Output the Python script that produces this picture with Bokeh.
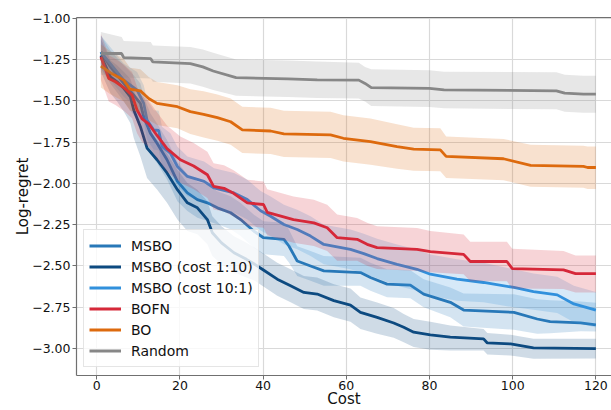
from bokeh.plotting import figure
from bokeh.models import (Range1d, FixedTicker, LinearAxis, Legend, LegendItem,
                          CustomJSTickFormatter)
from bokeh.embed import file_html
from bokeh.resources import INLINE

# ---------------- data ----------------
x_ticks = [0, 20, 40, 60, 80, 100, 120]
y_ticks = [-3.0, -2.75, -2.5, -2.25, -2.0, -1.75, -1.5, -1.25, -1.0]

# MSBO
msbo_x = [1, 3.3, 6.5, 8.9, 10.5, 11.3, 12.9, 14.5, 16.9, 19.4, 21.8, 24.2, 26.6, 29,
          32.2, 34.6, 37.8, 40.1, 45, 46.2, 48.2, 51.4, 54.6, 63.4, 65.8, 69.8, 75.4,
          78.6, 85, 88.2, 100.3, 105.9, 109, 116.3, 120]
msbo_y = [-1.205, -1.295, -1.395, -1.466, -1.516, -1.596, -1.696, -1.757, -1.857, -1.988,
          -2.058, -2.098, -2.118, -2.148, -2.178, -2.219, -2.29, -2.329, -2.339, -2.379,
          -2.47, -2.50, -2.53, -2.54, -2.57, -2.61, -2.616, -2.67, -2.72, -2.767, -2.781,
          -2.821, -2.837, -2.845, -2.857]
msbo_up = [0.10, 0.10, 0.11, 0.12, 0.12, 0.12, 0.12, 0.12, 0.12, 0.12, 0.11, 0.11, 0.11,
           0.10, 0.10, 0.10, 0.10, 0.10, 0.10, 0.10, 0.09, 0.09, 0.09, 0.09, 0.09, 0.09,
           0.09, 0.09, 0.09, 0.10, 0.11, 0.12, 0.13, 0.13, 0.135]
msbo_dn = [0.10, 0.10, 0.11, 0.12, 0.12, 0.12, 0.12, 0.12, 0.12, 0.12, 0.11, 0.11, 0.11,
           0.10, 0.10, 0.10, 0.10, 0.10, 0.10, 0.10, 0.09, 0.09, 0.09, 0.08, 0.08, 0.08,
           0.08, 0.08, 0.09, 0.10, 0.105, 0.09, 0.07, 0.05, 0.04]

# MSBO (cost 1:10)
c110_x = [1, 3.3, 4.9, 6.5, 8.1, 8.9, 10.5, 12.1, 14.5, 16.9, 19.4, 21.8, 24.2, 26.6,
          27.8, 30, 33, 36, 38, 39.8, 43.4, 46.6, 49.8, 53, 57, 61, 63.4, 67.4, 71.4,
          73.8, 76.2, 80.2, 85, 93, 93.9, 99.5, 105, 120]
c110_y = [-1.225, -1.355, -1.385, -1.425, -1.476, -1.556, -1.657, -1.787, -1.857, -1.937,
          -2.038, -2.118, -2.148, -2.219, -2.299, -2.36, -2.42, -2.46, -2.49, -2.52,
          -2.58, -2.62, -2.66, -2.67, -2.71, -2.737, -2.781, -2.811, -2.845, -2.871,
          -2.901, -2.917, -2.931, -2.941, -2.966, -2.972, -2.996, -3.0]
c110_up = [0.10, 0.10, 0.10, 0.10, 0.11, 0.12, 0.12, 0.12, 0.12, 0.12, 0.12, 0.12, 0.11,
           0.11, 0.10, 0.10, 0.10, 0.10, 0.10, 0.10, 0.10, 0.10, 0.10, 0.10, 0.10, 0.10,
           0.09, 0.09, 0.09, 0.08, 0.08, 0.08, 0.07, 0.06, 0.06, 0.055, 0.055, 0.06]
c110_dn = [0.10, 0.10, 0.12, 0.14, 0.16, 0.17, 0.18, 0.18, 0.18, 0.18, 0.18, 0.17, 0.16,
           0.15, 0.14, 0.13, 0.12, 0.11, 0.10, 0.10, 0.10, 0.10, 0.10, 0.10, 0.10, 0.10,
           0.10, 0.10, 0.09, 0.09, 0.09, 0.09, 0.08, 0.07, 0.07, 0.07, 0.065, 0.06]

# MSBO (cost 10:1)
c101_x = [1, 6.5, 9.7, 11.3, 12.1, 13.7, 14.9, 15.7, 17.7, 19.4, 21.8, 25.8, 28.2, 33,
          36.2, 39.4, 41.8, 45, 48.2, 51.4, 54.6, 61, 64.2, 67.4, 72.2, 77, 80.2, 86.6,
          93, 100.3, 105, 110.7, 114.7, 120]
c101_y = [-1.205, -1.375, -1.436, -1.516, -1.616, -1.677, -1.68, -1.777, -1.817, -1.898,
          -1.958, -1.988, -2.028, -2.058, -2.098, -2.166, -2.199, -2.249, -2.279, -2.319,
          -2.37, -2.40, -2.425, -2.455, -2.49, -2.52, -2.55, -2.58, -2.60, -2.63, -2.655,
          -2.675, -2.73, -2.767]
c101_up = [0.10, 0.10, 0.11, 0.11, 0.12, 0.12, 0.12, 0.12, 0.12, 0.12, 0.12, 0.12, 0.12,
           0.12, 0.12, 0.12, 0.12, 0.12, 0.12, 0.12, 0.12, 0.12, 0.12, 0.12, 0.12, 0.12,
           0.12, 0.12, 0.12, 0.11, 0.11, 0.11, 0.11, 0.11]
c101_dn = [0.10, 0.10, 0.11, 0.11, 0.12, 0.12, 0.12, 0.12, 0.12, 0.12, 0.12, 0.12, 0.12,
           0.12, 0.12, 0.12, 0.12, 0.12, 0.12, 0.12, 0.12, 0.12, 0.12, 0.12, 0.13, 0.13,
           0.13, 0.13, 0.12, 0.12, 0.11, 0.11, 0.11, 0.105]

# BOFN
bofn_x = [1, 2.9, 4.5, 6.5, 8.5, 9.7, 10.9, 12.5, 14.5, 16.9, 20.1, 23.3, 26.6, 28.1,
          30.6, 32.9, 36.2, 40.1, 41, 47.3, 52.2, 55.4, 57.8, 62.6, 65, 67.4, 77, 80.2,
          88.2, 89.8, 98.6, 99.9, 112.2, 115.1, 120]
bofn_y = [-1.235, -1.365, -1.385, -1.42, -1.466, -1.556, -1.61, -1.64, -1.71, -1.79,
          -1.857, -1.895, -1.948, -2.018, -2.03, -2.06, -2.118, -2.128, -2.175, -2.219,
          -2.239, -2.269, -2.329, -2.339, -2.369, -2.389, -2.40, -2.413, -2.43, -2.473,
          -2.473, -2.516, -2.524, -2.546, -2.546]
bofn_up = [0.14, 0.14, 0.14, 0.14, 0.14, 0.14, 0.14, 0.14, 0.14, 0.14, 0.14, 0.14, 0.14,
           0.14, 0.14, 0.14, 0.14, 0.14, 0.14, 0.14, 0.14, 0.14, 0.14, 0.13, 0.13, 0.13,
           0.13, 0.125, 0.12, 0.12, 0.12, 0.12, 0.115, 0.11, 0.11]
bofn_dn = [0.14, 0.14, 0.14, 0.14, 0.14, 0.14, 0.14, 0.14, 0.14, 0.14, 0.14, 0.14, 0.14,
           0.14, 0.14, 0.14, 0.14, 0.14, 0.14, 0.14, 0.14, 0.14, 0.14, 0.13, 0.13, 0.13,
           0.13, 0.125, 0.12, 0.12, 0.12, 0.12, 0.115, 0.115, 0.115]

# BO
bo_x = [1, 3.3, 6.5, 8, 10.5, 12.5, 14.5, 19.4, 22.5, 25.7, 29, 32.2, 35, 41.8, 45,
        56.2, 59.3, 65.8, 72.2, 76.2, 82.6, 84, 97.8, 104.3, 117, 118, 120]
bo_y = [-1.29, -1.33, -1.375, -1.43, -1.44, -1.486, -1.516, -1.536, -1.566, -1.582,
        -1.602, -1.627, -1.676, -1.683, -1.70, -1.707, -1.727, -1.747, -1.777, -1.793,
        -1.797, -1.837, -1.851, -1.891, -1.897, -1.904, -1.904]
bo_up = [0.13, 0.13, 0.13, 0.13, 0.13, 0.13, 0.13, 0.13, 0.135, 0.14, 0.14, 0.14, 0.14,
         0.14, 0.14, 0.14, 0.14, 0.14, 0.135, 0.13, 0.13, 0.12, 0.12, 0.125, 0.125, 0.127,
         0.127]
bo_dn = [0.13, 0.13, 0.13, 0.13, 0.13, 0.13, 0.13, 0.13, 0.135, 0.14, 0.14, 0.14, 0.14,
         0.14, 0.14, 0.14, 0.14, 0.14, 0.135, 0.13, 0.13, 0.13, 0.13, 0.13, 0.13, 0.13,
         0.13]

# Random
rnd_x = [1, 6, 6.5, 13, 13.5, 22.5, 25.5, 28, 33.5, 46, 53, 63, 64.5, 66, 80, 83.5,
         110.5, 112.5, 117, 120]
rnd_y = [-1.214, -1.214, -1.239, -1.245, -1.265, -1.275, -1.295, -1.32, -1.36, -1.367,
         -1.373, -1.375, -1.395, -1.42, -1.425, -1.434, -1.44, -1.454, -1.46, -1.46]
rnd_up = [0.13, 0.10, 0.10, 0.10, 0.10, 0.10, 0.105, 0.11, 0.11, 0.11, 0.11, 0.105,
          0.10, 0.11, 0.11, 0.11, 0.112, 0.112, 0.112, 0.112]
rnd_dn = [0.13, 0.12, 0.12, 0.12, 0.12, 0.12, 0.12, 0.115, 0.11, 0.11, 0.11, 0.111,
          0.11, 0.112, 0.112, 0.112, 0.112, 0.112, 0.112, 0.112]

series = [
    ("MSBO", msbo_x, msbo_y, msbo_up, msbo_dn, "#2878b8"),
    ("MSBO (cost 1:10)", c110_x, c110_y, c110_up, c110_dn, "#0d4a80"),
    ("MSBO (cost 10:1)", c101_x, c101_y, c101_up, c101_dn, "#3190dc"),
    ("BOFN", bofn_x, bofn_y, bofn_up, bofn_dn, "#d62839"),
    ("BO", bo_x, bo_y, bo_up, bo_dn, "#dd6a0e"),
    ("Random", rnd_x, rnd_y, rnd_up, rnd_dn, "#878787"),
]

FONT = "DejaVu Sans"
SPINE = "#707070"

p = figure(width=611, height=410, output_backend="svg", toolbar_location=None,
           x_range=Range1d(-4.86, 123.75), y_range=Range1d(-3.163, -0.996),
           min_border_left=76, min_border_right=0, min_border_top=17,
           min_border_bottom=33)
p.outline_line_color = None
p.background_fill_color = "white"

items = []
for name, xs, ys, ups, dns, col in series:
    lo = [y - d for y, d in zip(ys, dns)]
    hi = [y + u for y, u in zip(ys, ups)]
    p.varea(x=xs, y1=lo, y2=hi, fill_color=col, fill_alpha=0.2)
    r = p.line(x=xs, y=ys, line_color=col, line_width=2.8)
    items.append(LegendItem(label=name, renderers=[r]))

# axes
p.xaxis.ticker = FixedTicker(ticks=x_ticks)
p.yaxis.ticker = FixedTicker(ticks=y_ticks)
p.yaxis.formatter = CustomJSTickFormatter(
    code="return (tick < 0 ? '\u2212' : '') + Math.abs(tick).toFixed(2);")
for ax in (p.xaxis[0], p.yaxis[0]):
    ax.axis_line_color = SPINE
    ax.axis_line_width = 1.2
    ax.major_tick_line_color = SPINE
    ax.major_tick_out = 4
    ax.major_tick_in = 0
    ax.minor_tick_out = 0
    ax.minor_tick_in = 0
    ax.major_label_text_font = FONT
    ax.major_label_text_font_size = "12.5px"
    ax.major_label_text_color = "#111111"
    ax.axis_label_text_font = FONT
    ax.axis_label_text_font_size = "15px"
    ax.axis_label_text_font_style = "normal"
    ax.axis_label_text_color = "#111111"
p.xaxis.axis_label = "Cost"
p.yaxis.axis_label = "Log-regret"
p.xaxis.major_label_standoff = 1
p.xaxis.axis_label_standoff = -3
p.yaxis.major_label_standoff = 2
p.yaxis.axis_label_standoff = -3

top = LinearAxis(ticker=FixedTicker(ticks=[]), major_tick_out=0, major_tick_in=0,
                 minor_tick_out=0, minor_tick_in=0, major_label_standoff=0,
                 major_label_text_font_size="0px", axis_line_color=SPINE,
                 axis_line_width=1.2)
p.add_layout(top, "above")

p.xgrid.grid_line_color = "#d9d9d9"
p.ygrid.grid_line_color = "#d9d9d9"
p.xgrid.grid_line_width = 1.2
p.ygrid.grid_line_width = 1.2

legend = Legend(items=items, location=(7, 8))
legend.label_text_font = FONT
legend.label_text_font_size = "14px"
legend.label_text_color = "#111111"
legend.glyph_width = 32
legend.glyph_height = 21
legend.label_height = 21
legend.label_standoff = 10
legend.spacing = 0
legend.padding = 5
legend.margin = 0
legend.border_line_color = "#cccccc"
legend.border_line_width = 1
legend.background_fill_color = "white"
legend.background_fill_alpha = 0.8
p.add_layout(legend)

open("out.html", "w").write(file_html(p, INLINE))
